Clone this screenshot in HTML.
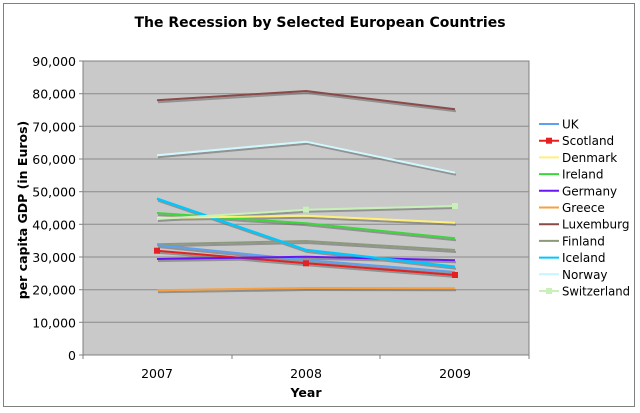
<!DOCTYPE html>
<html><head><meta charset="utf-8"><style>
html,body{margin:0;padding:0;background:#fff;}
svg{display:block;font-family:"DejaVu Sans","Liberation Sans",sans-serif;}
</style></head><body>
<svg width="640" height="413" viewBox="0 0 640 413" xmlns="http://www.w3.org/2000/svg">
<rect x="3.5" y="3.5" width="631" height="403" fill="#fff" stroke="#808080" stroke-width="1"/>
<text x="320" y="27" text-anchor="middle" font-size="14" font-weight="bold">The Recession by Selected European Countries</text>
<rect x="83" y="61" width="446" height="294" fill="#c9c9c9" stroke="#808080"/>
<g stroke="#8a8a8a" stroke-width="1">
<line x1="83" y1="93.7" x2="529" y2="93.7"/><line x1="83" y1="126.3" x2="529" y2="126.3"/>
<line x1="83" y1="159" x2="529" y2="159"/><line x1="83" y1="191.7" x2="529" y2="191.7"/>
<line x1="83" y1="224.3" x2="529" y2="224.3"/><line x1="83" y1="257" x2="529" y2="257"/>
<line x1="83" y1="289.7" x2="529" y2="289.7"/><line x1="83" y1="322.3" x2="529" y2="322.3"/>
</g>
<g stroke="#808080"><line x1="79" y1="61" x2="83" y2="61"/><line x1="79" y1="93.7" x2="83" y2="93.7"/><line x1="79" y1="126.3" x2="83" y2="126.3"/><line x1="79" y1="159" x2="83" y2="159"/><line x1="79" y1="191.7" x2="83" y2="191.7"/><line x1="79" y1="224.3" x2="83" y2="224.3"/><line x1="79" y1="257" x2="83" y2="257"/><line x1="79" y1="289.7" x2="83" y2="289.7"/><line x1="79" y1="322.3" x2="83" y2="322.3"/><line x1="79" y1="355" x2="83" y2="355"/>
<line x1="83" y1="355" x2="83" y2="359"/><line x1="232" y1="355" x2="232" y2="359"/><line x1="380" y1="355" x2="380" y2="359"/><line x1="529" y1="355" x2="529" y2="359"/></g>
<g font-size="12.5" text-anchor="end">
<text x="76" y="66">90,000</text><text x="76" y="98.7">80,000</text><text x="76" y="131.3">70,000</text><text x="76" y="164">60,000</text><text x="76" y="196.7">50,000</text><text x="76" y="229.3">40,000</text><text x="76" y="262">30,000</text><text x="76" y="294.7">20,000</text><text x="76" y="327.3">10,000</text><text x="76" y="360">0</text>
</g>
<g font-size="12.5" text-anchor="middle"><text x="157" y="378">2007</text><text x="306" y="378">2008</text><text x="455" y="378">2009</text></g>
<text x="306" y="397" text-anchor="middle" font-size="12.5" font-weight="bold">Year</text>
<text transform="translate(27,210) rotate(-90)" text-anchor="middle" font-size="12.5" font-weight="bold">per capita GDP (in Euros)</text>
<g fill="none" stroke="#6e6e6e" stroke-width="2" transform="translate(1,2)" opacity="0.6">
<polyline points="157,100.3 306,91 455,109.3"/><polyline points="157,155.3 306,141.7 455,172.7"/>
<polyline points="157,219 306,209.7 455,206"/><polyline points="157,218 306,215.7 455,222.7"/>
<polyline points="157,213 306,223.3 455,238.3"/><polyline points="157,198.7 306,250 455,266.7"/>
<polyline points="157,244.3 306,241 455,250"/><polyline points="157,245 306,260 455,272"/>
<polyline points="157,250.7 306,263.3 455,275"/><polyline points="157,259 306,256.7 455,260.3"/>
<polyline points="157,290.3 306,288 455,288.3"/>
</g>
<g fill="none" stroke-width="2">
<polyline stroke="#8c9a7c" points="157,244.3 306,241 455,250"/>
<polyline stroke="#5ea0f0" points="157,245 306,260 455,272"/>
<polyline stroke="#e52020" points="157,250.7 306,263.3 455,275"/>
<polyline stroke="#6a16f0" points="157,259 306,256.7 455,260.3"/>
<polyline stroke="#f7a040" points="157,290.3 306,288 455,288.3"/>
<polyline stroke="#00c8ff" stroke-width="2.5" points="157,198.7 306,250 455,266.7"/>
<polyline stroke="#3ad83a" points="157,213 306,223.3 455,238.3"/>
<polyline stroke="#fff07a" points="157,218 306,215.7 455,222.7"/>
<polyline stroke="#c8f0b8" points="157,219 306,209.7 455,206"/>
<polyline stroke="#d0f8ff" points="157,155.3 306,141.7 455,172.7"/>
<polyline stroke="#8a4a4a" points="157,100.3 306,91 455,109.3"/>
</g>
<g fill="#e52020"><rect x="303" y="260.3" width="6" height="6"/><rect x="452" y="272" width="6" height="6"/><rect x="154" y="247.7" width="6" height="6"/></g>
<g fill="#c8f0b8"><rect x="452" y="203" width="6" height="6"/><rect x="303" y="206.7" width="6" height="6"/></g>
<g font-size="12">
<g transform="translate(0,124)"><line x1="539" y1="0" x2="559" y2="0" stroke="#5ea0f0" stroke-width="2"/><text x="562" y="4.5">UK</text></g>
<g transform="translate(0,140.7)"><line x1="539" y1="0" x2="559" y2="0" stroke="#e52020" stroke-width="2"/><rect x="546" y="-3" width="6" height="6" fill="#e52020"/><text x="562" y="4.5">Scotland</text></g>
<g transform="translate(0,157.4)"><line x1="539" y1="0" x2="559" y2="0" stroke="#fff07a" stroke-width="2"/><text x="562" y="4.5">Denmark</text></g>
<g transform="translate(0,174.1)"><line x1="539" y1="0" x2="559" y2="0" stroke="#3ad83a" stroke-width="2"/><text x="562" y="4.5">Ireland</text></g>
<g transform="translate(0,190.8)"><line x1="539" y1="0" x2="559" y2="0" stroke="#6a16f0" stroke-width="2"/><text x="562" y="4.5">Germany</text></g>
<g transform="translate(0,207.5)"><line x1="539" y1="0" x2="559" y2="0" stroke="#f7a040" stroke-width="2"/><text x="562" y="4.5">Greece</text></g>
<g transform="translate(0,224.2)"><line x1="539" y1="0" x2="559" y2="0" stroke="#8a4a4a" stroke-width="2"/><text x="562" y="4.5">Luxemburg</text></g>
<g transform="translate(0,240.9)"><line x1="539" y1="0" x2="559" y2="0" stroke="#8c9a7c" stroke-width="2"/><text x="562" y="4.5">Finland</text></g>
<g transform="translate(0,257.6)"><line x1="539" y1="0" x2="559" y2="0" stroke="#00c8ff" stroke-width="2"/><text x="562" y="4.5">Iceland</text></g>
<g transform="translate(0,274.3)"><line x1="539" y1="0" x2="559" y2="0" stroke="#c8f4ff" stroke-width="2"/><text x="562" y="4.5">Norway</text></g>
<g transform="translate(0,291)"><line x1="539" y1="0" x2="559" y2="0" stroke="#c8f0b8" stroke-width="2"/><rect x="546" y="-3" width="6" height="6" fill="#c8f0b8"/><text x="562" y="4.5" textLength="68" lengthAdjust="spacingAndGlyphs">Switzerland</text></g>
</g>
</svg>
</body></html>
